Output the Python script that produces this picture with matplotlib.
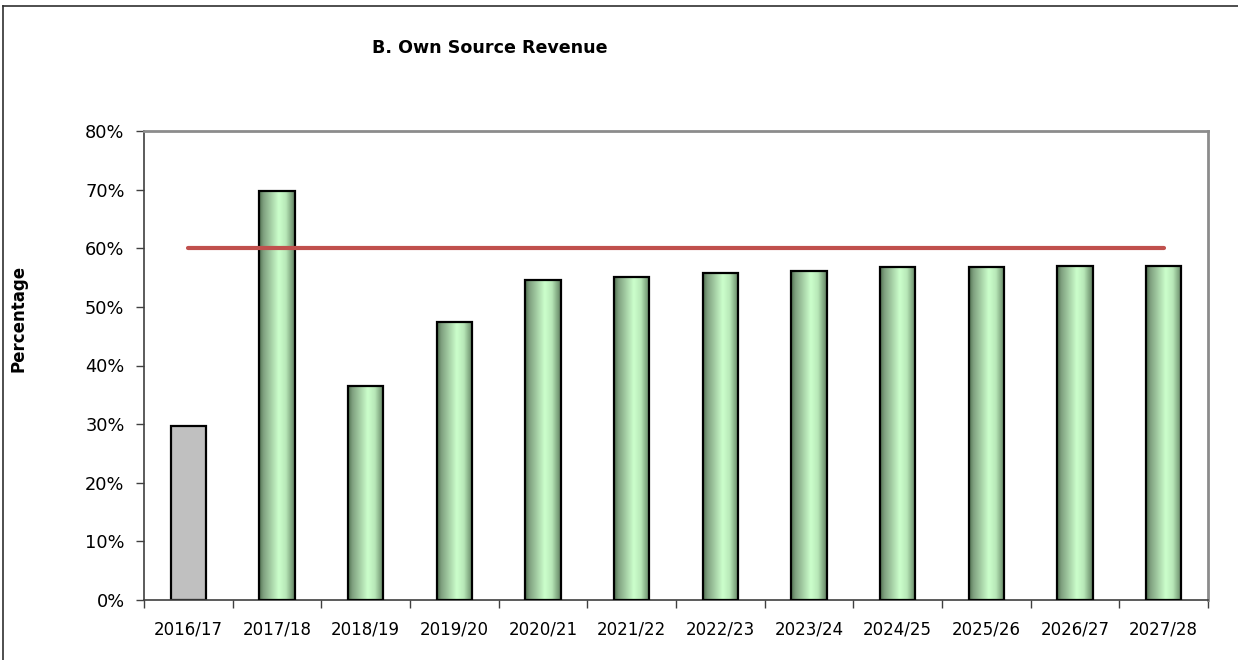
import matplotlib
matplotlib.use("Agg")
import matplotlib.pyplot as plt
import numpy as np
from matplotlib.colors import LinearSegmentedColormap
from matplotlib.lines import Line2D
from matplotlib.ticker import FixedLocator, FuncFormatter

categories = ["2016/17", "2017/18", "2018/19", "2019/20", "2020/21", "2021/22",
              "2022/23", "2023/24", "2024/25", "2025/26", "2026/27", "2027/28"]
values = [29.7, 69.8, 36.5, 47.4, 54.6, 55.1, 55.8, 56.1, 56.8, 56.8, 57.0, 57.0]
target = [60.0] * len(categories)
title = "B. Own Source Revenue"
ylabel = "Percentage"

plt.rcParams['font.family'] = ['DejaVu Sans']

fig = plt.figure(figsize=(12.38, 6.60), dpi=100)
ax = fig.add_axes([144/1238, 60/660, (1208-144)/1238, (600-131)/660])

x = np.arange(len(categories))
width = 0.4
cmap = LinearSegmentedColormap.from_list(
    "g", [(0.0, "#4e6e4e"), (0.12, "#7fa07f"), (0.55, "#ccffcc"), (0.75, "#b8e8b8"), (1.0, "#5f7f5f")])
grad = np.linspace(0, 1, 256).reshape(1, -1)

for i, v in enumerate(values):
    if i == 0:
        ax.bar(x[i], v, width=width, color="#c0c0c0", edgecolor="black", linewidth=1.6, zorder=2)
    else:
        b = ax.bar(x[i], v, width=width, color="none", edgecolor="black", linewidth=1.6, zorder=3)[0]
        im = ax.imshow(grad, cmap=cmap, aspect="auto", interpolation="bicubic",
                       extent=[x[i] - width/2, x[i] + width/2, 0, v], zorder=2)
        im.set_clip_path(b)

ax.plot(x, target, color="#c0504d", linewidth=3.0, solid_capstyle="round", zorder=4)

ax.set_xlim(-0.5, len(categories) - 0.5)
ax.set_ylim(0, 80)
ax.set_aspect("auto")
ax.set_yticks(np.arange(0, 81, 10))
ax.yaxis.set_major_formatter(FuncFormatter(lambda v, p: f"{int(v)}%"))
ax.set_xticks(x)
ax.set_xticklabels(categories, fontsize=12)
ax.tick_params(axis="x", which="major", length=0, pad=15)
ax.xaxis.set_minor_locator(FixedLocator(np.arange(-0.5, len(categories), 1.0)))
ax.tick_params(axis="x", which="minor", length=6, width=1, color="#404040", direction="out")
ax.tick_params(axis="y", length=6, width=1, color="#404040", direction="out", labelsize=12.8, pad=8)

for s in ["left", "bottom"]:
    ax.spines[s].set_color("#404040")
    ax.spines[s].set_linewidth(1.2)
for s in ["top", "right"]:
    ax.spines[s].set_color("#8c8c8c")
    ax.spines[s].set_linewidth(2.0)

fig.text(490/1238, 1 - 48/660, title, ha="center", va="center", fontsize=12.6, fontweight="bold")
fig.text(19/1238, 1 - 318/660, ylabel, ha="center", va="center", rotation=90,
         fontsize=12, fontweight="bold")

# figure border (top and left visible)
fig.add_artist(Line2D([3/1238, 3/1238], [0, 1 - 6/660], transform=fig.transFigure,
                      color="#303030", linewidth=1.2))
fig.add_artist(Line2D([3/1238, 1], [1 - 6/660, 1 - 6/660], transform=fig.transFigure,
                      color="#303030", linewidth=1.2))

fig.savefig("out.png", dpi=100)
